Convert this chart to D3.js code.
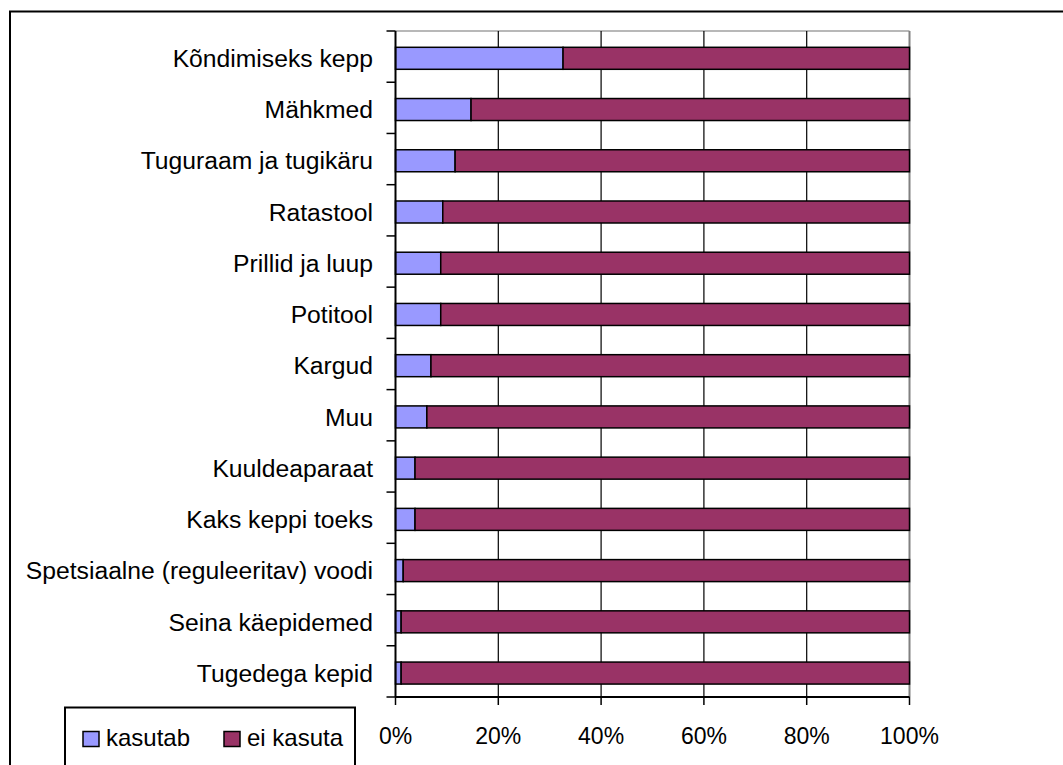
<!DOCTYPE html>
<html>
<head>
  <meta charset="UTF-8">
  <style>
    body { margin: 0; background: #fff; }
    text { font-family: "Liberation Sans", Arial, sans-serif; fill: #000; }
  </style>
</head>
<body>
<svg></svg>
<script src="https://d3js.org/d3.v7.min.js"></script>
<script>

// data
let categories = ["Kõndimiseks kepp", "Mähkmed", "Tuguraam ja tugikäru", "Ratastool",
  "Prillid ja luup", "Potitool", "Kargud", "Muu", "Kuuldeaparaat", "Kaks keppi toeks",
  "Spetsiaalne (reguleeritav) voodi", "Seina käepidemed", "Tugedega kepid"];
let kasutab = [32.6, 14.7, 11.6, 9.2, 8.8, 8.8, 6.9, 6.1, 3.8, 3.8, 1.5, 1.1, 1.1];
let eiKasuta = kasutab.map(v => 100 - v);
let seriesNames = ["kasutab", "ei kasuta"];
let xTicks = [0, 20, 40, 60, 80, 100];

let width = 1063, height = 765;
let svg = d3.select("svg").attr("width", width).attr("height", height);

// outer frame (runs off the right/bottom edge)
svg.append("rect")
  .attr("x", 10).attr("y", 11.5)
  .attr("width", 1100).attr("height", 800)
  .attr("fill", "none").attr("stroke", "#000").attr("stroke-width", 2);

let plotL = 395.5, plotR = 909.5, plotT = 31, plotB = 697;

let x = d3.scaleLinear().domain([0, 100]).range([plotL, plotR]);
let y = d3.scaleBand().domain(categories).range([plotT, plotB]);
let color = d3.scaleOrdinal().domain(seriesNames).range(["#9999ff", "#993366"]);

let rows = categories.map((c, i) => ({cat: c, a: kasutab[i], b: eiKasuta[i]}));
let stack = d3.stack().keys(["a", "b"])(rows);

// top + right border of plot area
svg.append("line").attr("x1", plotL).attr("x2", plotR).attr("y1", plotT).attr("y2", plotT)
  .attr("stroke", "#a0a0a0").attr("stroke-width", 1.5);
svg.append("line").attr("x1", plotR).attr("x2", plotR).attr("y1", plotT).attr("y2", plotB)
  .attr("stroke", "#808080").attr("stroke-width", 2);

// gridlines
svg.append("g").selectAll("line")
  .data(xTicks.filter(t => t > 0 && t < 100))
  .enter().append("line")
  .attr("x1", d => x(d)).attr("x2", d => x(d))
  .attr("y1", plotT).attr("y2", plotB)
  .attr("stroke", "#000").attr("stroke-width", 1.2);

// bars
let barOff = 16.3, barH = 22;
svg.append("g").selectAll("g")
  .data(stack)
  .enter().append("g")
  .attr("fill", (d, i) => color(seriesNames[i]))
  .selectAll("rect")
  .data(d => d)
  .enter().append("rect")
  .attr("x", d => x(d[0]))
  .attr("width", d => x(d[1]) - x(d[0]))
  .attr("y", d => y(d.data.cat) + barOff)
  .attr("height", barH)
  .attr("stroke", "#000").attr("stroke-width", 1.5);

// y axis
svg.append("line").attr("x1", plotL).attr("x2", plotL).attr("y1", plotT).attr("y2", plotB)
  .attr("stroke", "#000").attr("stroke-width", 2);
let yEdges = categories.map(c => y(c)).concat([plotB]);
svg.append("g").selectAll("line")
  .data(yEdges)
  .enter().append("line")
  .attr("x1", plotL - 9).attr("x2", plotL)
  .attr("y1", d => d).attr("y2", d => d)
  .attr("stroke", "#000").attr("stroke-width", 1.5);

svg.append("g").selectAll("text")
  .data(categories)
  .enter().append("text")
  .attr("x", 373)
  .attr("y", d => y(d) + barOff + barH / 2 + 8.7)
  .attr("text-anchor", "end")
  .style("font-size", "24.7px")
  .text(d => d);

// x axis
svg.append("line").attr("x1", plotL).attr("x2", plotR).attr("y1", plotB).attr("y2", plotB)
  .attr("stroke", "#000").attr("stroke-width", 2);
svg.append("g").selectAll("line")
  .data(xTicks)
  .enter().append("line")
  .attr("x1", d => x(d)).attr("x2", d => x(d))
  .attr("y1", plotB).attr("y2", plotB + 8)
  .attr("stroke", "#000").attr("stroke-width", 1.5);
svg.append("g").selectAll("text")
  .data(xTicks)
  .enter().append("text")
  .attr("x", d => x(d))
  .attr("y", 744)
  .attr("text-anchor", "middle")
  .style("font-size", "23px")
  .text(d => d + "%");

// legend
let legend = svg.append("g");
legend.append("rect")
  .attr("x", 65).attr("y", 707.5).attr("width", 290).attr("height", 100)
  .attr("fill", "#fff").attr("stroke", "#000").attr("stroke-width", 2);
let legX = [83, 224];
seriesNames.forEach((s, i) => {
  legend.append("rect")
    .attr("x", legX[i]).attr("y", 731.5).attr("width", 16).attr("height", 15)
    .attr("fill", color(s)).attr("stroke", "#000").attr("stroke-width", 1.5);
  legend.append("text")
    .attr("x", legX[i] + 23).attr("y", 746)
    .style("font-size", "24px")
    .text(s);
});

</script>
</body>
</html>
